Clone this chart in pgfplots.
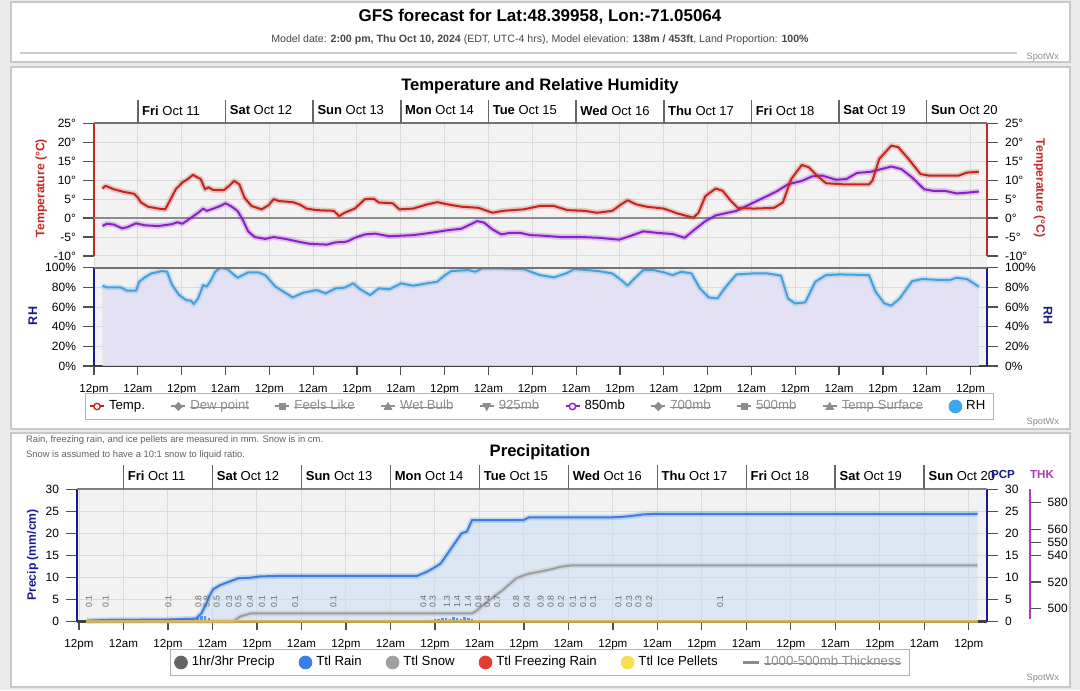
\documentclass[border=0pt]{standalone}
\usepackage{pgfplots}
\pgfplotsset{compat=1.18}
\usepackage{pgfplotstable}
\usepackage{fontspec}
\setmainfont{Liberation Sans}
\newlength{\stw}
\newcommand{\sout}[1]{\settowidth{\stw}{#1}\rlap{#1}\rule[0.3ex]{\stw}{0.45pt}}
\newcommand{\fs}[1]{\fontsize{#1}{#1}\selectfont}
\definecolor{outerbg}{RGB}{234,234,234}
\definecolor{panelbd}{RGB}{200,200,200}
\definecolor{plotbg}{RGB}{242,242,242}
\definecolor{gridc}{RGB}{218,218,218}
\definecolor{tred}{RGB}{196,38,30}
\definecolor{taxis}{RGB}{198,40,40}
\definecolor{purp}{RGB}{140,32,200}
\definecolor{rhline}{RGB}{70,160,220}
\definecolor{rhfill}{RGB}{226,223,245}
\definecolor{navy}{RGB}{26,26,140}
\definecolor{rain}{RGB}{60,125,225}
\definecolor{rainfill}{RGB}{205,222,245}
\definecolor{snow}{RGB}{158,158,158}
\definecolor{thk}{RGB}{176,58,184}
\definecolor{tickc}{RGB}{80,80,80}
\definecolor{frz}{RGB}{229,57,53}
\definecolor{ice}{RGB}{245,224,80}
\definecolor{legrh}{RGB}{60,165,240}
\definecolor{leg1h}{RGB}{100,100,100}
\definecolor{legrain}{RGB}{55,125,235}
\definecolor{legsnow}{RGB}{160,160,160}
\definecolor{strk}{RGB}{140,140,140}

\pgfplotstableread{
h v
2.3 7.8
3.2 8.5
5.4 7.6
8.2 6.9
11 6.4
12 5.4
12.9 4.1
14.8 3.0
17.6 2.5
19.5 2.3
20.5 4.1
22.4 7.6
24.2 9.4
25.7 10.3
27.1 11.4
28 10.9
29.2 10.3
30.4 7.6
31.3 8.1
32.7 7.4
35.6 7.4
37 8.5
38.4 9.8
39.8 8.9
41.2 5.4
43.1 3.2
45.9 2.3
47.8 3.4
49.2 5.0
50.6 4.5
54.4 4.2
56.3 3.6
58.2 2.5
61 2.1
65.7 1.9
67.1 0.5
68.6 1.4
71.4 2.5
74.2 5.0
76.6 5.1
78 4.1
81.8 3.9
83.6 2.3
87.4 2.5
91.2 3.6
94 4.2
96.9 3.6
100.6 3.0
105.3 2.7
109.1 1.4
111.9 1.9
117.6 2.3
122.1 3.2
125.9 3.2
129.6 2.1
134.4 1.9
137.7 1.4
141.9 1.9
144.3 3.6
146.1 4.7
148.5 3.6
151.3 3.0
156 2.5
159.8 1.2
164.1 0.1
165.5 1.4
167.4 5.8
170.2 7.8
172.1 7.2
174.4 4.5
176.3 2.7
180.6 2.5
186.2 2.7
188.6 4.1
190.9 10.3
193.8 14.0
195.7 13.4
198 11.2
200.4 9.2
205.1 8.9
212.2 8.9
213.1 9.8
215 15.6
218.3 19.1
220.2 18.7
223 15.6
226.3 11.6
228.7 11.2
236.7 11.2
239 12.0
242.3 12.2
}\tdata

\pgfplotstableread{
h v
2.3 -2.1
3.5 -1.5
5.4 -1.7
7.7 -2.7
9.1 -2.4
11.5 -1.4
13.9 -1.9
17.6 -2.1
21.4 -1.6
22.8 -1.1
24.2 -1.5
26.6 0.1
28.5 1.4
29.9 2.5
30.8 1.9
32.7 2.5
34.6 3.2
36 3.9
37.4 3.2
39.3 1.9
40.7 -0.4
42.2 -3.5
44 -5.0
46.9 -5.5
49.2 -5.0
52.5 -5.5
56.3 -6.3
59.1 -6.8
63.8 -7.0
66.2 -6.4
68.6 -6.3
69.5 -6.1
71.4 -5.2
74.2 -4.3
77 -4.1
80.8 -4.8
87.4 -4.5
92.1 -3.9
96.9 -3.2
100.6 -2.8
103 -1.7
104.9 -0.8
106.8 -1.2
109.1 -3.0
111.5 -4.3
113.9 -3.9
116.7 -3.9
119.5 -4.5
122.1 -4.6
127.8 -5.0
133.4 -5.0
138.1 -5.2
143.8 -5.7
146.6 -4.8
150.4 -3.5
154.2 -3.9
158.4 -4.2
161.7 -5.2
164.5 -3.0
167.4 -0.8
170.2 0.7
175.9 1.9
180.6 4.1
184.3 5.8
187.2 7.2
190 8.9
193.8 9.8
196.6 11.0
199.4 11.2
203.2 10.1
206 10.3
208.9 11.9
212.6 12.2
215.5 12.9
218.3 13.6
221.1 12.9
224 10.7
227.3 7.6
229.6 7.2
232.9 7.2
236.2 6.5
239 6.7
242.3 7.0
}\mbdata

\pgfplotstableread{
h v
2.3 81.7
3.5 80
7.3 80
9.1 76.6
11.5 76.6
12.4 85.8
13.9 90.2
15.7 94.2
18.6 96.6
20 95.9
21.4 82.4
23.3 72.2
25.2 67.1
26.6 66.4
27.3 63
28.5 68.8
29.9 82.4
30.8 80.7
31.8 85.8
33.2 95.9
34.6 100
36.5 98.6
39.3 89.8
42.2 95.3
45 95.3
46.9 92.5
49.7 80.7
54.4 69.8
57.3 74.6
61 77.3
63.4 73.9
66.2 79
68.6 79.7
71 84.1
72.8 78.3
75.6 72.2
78 79
80.8 78
84.1 84.1
87.4 81.7
91.2 84.1
94 85.8
95.9 91.9
97.8 96.6
102.5 97.6
104.4 95.9
106.3 99.3
111 99.3
117.6 98.6
122.1 92.5
125.9 90.2
129.2 94.2
131.5 98.6
138.1 96.6
141.9 94.2
144.7 86.4
146.1 81.7
148 89.2
150.4 97.6
153.2 97.6
156 95.3
158.4 92.5
160.8 95.9
163.6 94.2
165.9 79
168.3 69.8
170.7 68.8
173 80.7
175.9 93.2
180.6 94.2
184.3 94.2
188.1 91.9
190 68.8
191.9 63.7
194.7 64.7
197.5 85.8
200.4 92.5
204.1 93.2
212.2 92.5
214 75.6
216.4 63.7
218.3 61.4
220.6 68.8
224 86.4
226.8 88.5
231.5 87.5
234.3 87.5
236.2 89.8
239 88.5
242.3 80.7
}\rhdata

\pgfplotstableread{
h v
2 0.1
4 0.2
8 0.3
24 0.4
31.5 0.6
33 1.8
34.2 3.8
35.3 6.0
36.2 7.3
38 8.2
40.5 9.0
43 9.8
46 9.9
49 10.2
53 10.3
91.1 10.3
93.9 11.3
96.2 12.4
97.6 13.2
99.5 15.5
101.3 17.7
103.2 20.0
104.6 20.4
106 23.0
119.9 23.0
121.3 23.6
143 23.6
145.8 23.7
148.5 23.9
152.3 24.3
155 24.4
242.4 24.4
}\raindata

\pgfplotstableread{
h v
2 0
41.6 0
43.5 1.1
46.3 1.8
106 1.8
106.9 2.2
110.6 4.8
114.3 7.1
118 9.8
120.8 10.7
124.4 11.3
127.2 11.8
130 12.4
132.8 12.7
242.4 12.7
}\snowdata

\pgfplotstableread{
h v
31 0.4
32 0.9
33 1.3
34 1.1
35 0.8
36 0.4
37 0.2
93 0.3
95 0.4
96 0.6
97 0.5
98 0.7
99 0.8
100 0.6
101 0.9
102 0.8
103 0.6
104 1.0
105 0.7
106 0.5
}\rainbars

\pgfplotstableread{
h v
108 0.3
110 0.2
112 0.3
115 0.2
118 0.3
121 0.2
124 0.2
127 0.2
}\snowbars

\pgfplotstableread{
h y lab
2.7 3 0.1
7.2 3 0.1
24.1 3 0.1
32.2 3 0.8
34.4 3 5.8
37.1 3 0.5
40.5 3 0.3
43 3 0.5
46.1 3 0.4
49.3 3 0.1
52.6 3 0.1
58.3 3 0.1
68.6 3 0.1
92.9 3 0.4
95.4 3 0.3
99.2 3 1.3
102 3 1.4
104.9 3 1.4
107.7 3 0.8
110.1 3 0.4
112.8 3 0.7
117.9 3 0.8
120.8 3 0.4
124.5 3 0.9
127.2 3 0.8
130 3 0.2
133.2 3 0.1
136 3 0.1
138.7 3 0.1
145.5 3 0.1
148.4 3 0.3
150.9 3 0.3
153.8 3 0.2
172.9 3 0.1
}\lbldata

\pgfplotsset{
  glow/.style={preaction={draw,#1,opacity=0.22,line width=2.8pt}},
  hrs/.style={xtick={0,12,...,240},
    xticklabels={12pm,12am,12pm,12am,12pm,12am,12pm,12am,12pm,12am,12pm,12am,12pm,12am,12pm,12am,12pm,12am,12pm,12am,12pm}},
}

\begin{document}
\begin{tikzpicture}[x=0.5pt,y=0.5pt]
\fill[outerbg] (0,0) rectangle (1080,690);
\filldraw[fill=white,draw=panelbd,line width=0.6pt] (11,690-2) rectangle (1070,690-62);
\filldraw[fill=white,draw=panelbd,line width=0.6pt] (11,690-67) rectangle (1070,690-429);
\filldraw[fill=white,draw=panelbd,line width=0.6pt] (11,690-433) rectangle (1070,690-687);

% header
\node[font=\bfseries\fs{8.5}] at (540,690-17) {GFS forecast for Lat:48.39958, Lon:-71.05064};
\node[font=\fs{5.3}, text=black!72] at (540,690-40) {Model date: \textbf{2:00 pm, Thu Oct 10, 2024} (EDT, UTC-4 hrs), Model elevation: \textbf{138m / 453ft}, Land Proportion: \textbf{100\%}};
\draw[black!20, line width=1pt] (20,690-53) -- (1017,690-53);
\node[font=\fs{4.6}, text=black!45, anchor=east] at (1066,690-57) {SpotWx};

% ===== panel 2 =====
\node[font=\bfseries\fs{8.3}] at (540,690-86) {Temperature and Relative Humidity};

\begin{axis}[at={(47pt,162pt)}, anchor=south west, scale only axis,
  width=446.5pt, height=121.35pt, xmin=0, xmax=244.5, ymin=0, ymax=1,
  xtick={0,12,...,240}, xticklabels={}, ytick=\empty, major tick length=0pt,
  axis line style={draw=none}, axis background/.style={fill=plotbg},
  xmajorgrids, grid style={gridc, line width=0.5pt}]
\end{axis}

\begin{axis}[at={(47pt,217pt)}, anchor=south west, scale only axis,
  width=446.5pt, height=66.35pt, xmin=0, xmax=244.5, ymin=-10, ymax=25,
  axis x line=none, axis y line*=left,
  y axis line style={taxis, line width=1.3pt},
  ytick={-10,-5,...,25}, yticklabels={-10°,-5°,0°,5°,10°,15°,20°,25°},
  ymajorgrids, grid style={gridc, line width=0.5pt},
  tick align=outside, major tick length=5.5pt,
  ytick style={tickc, line width=0.6pt},
  yticklabel style={font=\fs{6}},
  ylabel={\textbf{Temperature (°C)}},
  ylabel style={taxis, font=\fs{6.1}, at={(axis description cs:-0.059,0.512)}, anchor=center}]
\draw[black!45, line width=0.8pt] (axis cs:0,0) -- (axis cs:244.5,0);
\addplot[purp, line width=1pt, line join=round, glow=purp] table {\mbdata};
\addplot[tred, line width=1pt, line join=round, glow=tred] table {\tdata};
\end{axis}

\begin{axis}[at={(47pt,217pt)}, anchor=south west, scale only axis,
  width=446.5pt, height=66.35pt, xmin=0, xmax=244.5, ymin=-10, ymax=25,
  axis x line=none, axis y line*=right,
  y axis line style={taxis, line width=1.3pt},
  ytick={-10,-5,...,25}, yticklabels={-10°,-5°,0°,5°,10°,15°,20°,25°},
  tick align=outside, major tick length=5.5pt,
  ytick style={tickc, line width=0.6pt},
  yticklabel style={font=\fs{6}},
  ylabel={\textbf{Temperature (°C)}},
  ylabel style={taxis, font=\fs{6.1}, at={(axis description cs:1.0587,0.512)}, anchor=center, rotate=180}]
\end{axis}

\begin{axis}[at={(47pt,162pt)}, anchor=south west, scale only axis,
  width=446.5pt, height=49.15pt, xmin=0, xmax=244.5, ymin=0, ymax=100,
  axis x line*=bottom, axis y line*=left,
  x axis line style={black!75, line width=1.2pt},
  y axis line style={navy, line width=1.3pt},
  hrs, ytick={0,20,...,100}, yticklabels={0\%,20\%,40\%,60\%,80\%,100\%},
  ymajorgrids, grid style={gridc, line width=0.5pt},
  tick align=outside, major tick length=5.5pt,
  xtick style={tickc, line width=0.6pt, /pgfplots/major tick length=4.5pt},
  ytick style={tickc, line width=0.6pt},
  yticklabel style={font=\fs{6}}, xticklabel style={font=\fs{5.8}},
  ylabel={\textbf{RH}},
  ylabel style={navy, font=\fs{6.3}, at={(axis description cs:-0.0686,0.509)}, anchor=center},
  legend columns=10,
  legend style={at={(0.4985,-0.412)}, anchor=center, draw=black!30, fill=white,
    font=\fs{6.6}, inner ysep=1.5pt, inner xsep=2pt,
    /tikz/every even column/.append style={column sep=10.7pt}},
  legend cell align=left]
\addplot[draw=none, fill=rhfill, fill opacity=0.85, forget plot] table {\rhdata} \closedcycle;
\addplot[rhline, line width=1pt, line join=round, glow=rhline, forget plot] table {\rhdata};
\addlegendimage{legend image code/.code={\draw[tred, line width=1pt] (0pt,0pt) -- (7pt,0pt); \draw[tred, line width=0.7pt, fill=white] (3.5pt,0pt) circle (1.6pt);}}
\addlegendentry{Temp.}
\addlegendimage{legend image code/.code={\draw[strk, line width=1pt] (0pt,0pt) -- (7pt,0pt); \fill[strk] (3.5pt,2pt) -- (5.5pt,0pt) -- (3.5pt,-2pt) -- (1.5pt,0pt) -- cycle;}}
\addlegendentry{\textcolor{strk}{\sout{Dew point}}}
\addlegendimage{legend image code/.code={\draw[strk, line width=1pt] (0pt,0pt) -- (7pt,0pt); \fill[strk] (2pt,-1.6pt) rectangle (5pt,1.6pt);}}
\addlegendentry{\textcolor{strk}{\sout{Feels Like}}}
\addlegendimage{legend image code/.code={\draw[strk, line width=1pt] (0pt,0pt) -- (7pt,0pt); \fill[strk] (3.5pt,2pt) -- (5.4pt,-1.5pt) -- (1.6pt,-1.5pt) -- cycle;}}
\addlegendentry{\textcolor{strk}{\sout{Wet Bulb}}}
\addlegendimage{legend image code/.code={\draw[strk, line width=1pt] (0pt,0pt) -- (7pt,0pt); \fill[strk] (3.5pt,-2pt) -- (5.4pt,1.5pt) -- (1.6pt,1.5pt) -- cycle;}}
\addlegendentry{\textcolor{strk}{\sout{925mb}}}
\addlegendimage{legend image code/.code={\draw[purp, line width=1pt] (0pt,0pt) -- (7pt,0pt); \draw[purp, line width=0.7pt, fill=white] (3.5pt,0pt) circle (1.6pt);}}
\addlegendentry{850mb}
\addlegendimage{legend image code/.code={\draw[strk, line width=1pt] (0pt,0pt) -- (7pt,0pt); \fill[strk] (3.5pt,2pt) -- (5.5pt,0pt) -- (3.5pt,-2pt) -- (1.5pt,0pt) -- cycle;}}
\addlegendentry{\textcolor{strk}{\sout{700mb}}}
\addlegendimage{legend image code/.code={\draw[strk, line width=1pt] (0pt,0pt) -- (7pt,0pt); \fill[strk] (2pt,-1.6pt) rectangle (5pt,1.6pt);}}
\addlegendentry{\textcolor{strk}{\sout{500mb}}}
\addlegendimage{legend image code/.code={\draw[strk, line width=1pt] (0pt,0pt) -- (7pt,0pt); \fill[strk] (3.5pt,2pt) -- (5.4pt,-1.5pt) -- (1.6pt,-1.5pt) -- cycle;}}
\addlegendentry{\textcolor{strk}{\sout{Temp Surface}}}
\addlegendimage{legend image code/.code={\fill[legrh] (3.5pt,0pt) circle (3.2pt);}}
\addlegendentry{RH}
\end{axis}

\begin{axis}[at={(47pt,162pt)}, anchor=south west, scale only axis,
  width=446.5pt, height=49.15pt, xmin=0, xmax=244.5, ymin=0, ymax=100,
  axis x line=none, axis y line*=right,
  y axis line style={navy, line width=1.3pt},
  ytick={0,20,...,100}, yticklabels={0\%,20\%,40\%,60\%,80\%,100\%},
  tick align=outside, major tick length=5.5pt,
  ytick style={tickc, line width=0.6pt},
  yticklabel style={font=\fs{6}},
  ylabel={\textbf{RH}},
  ylabel style={navy, font=\fs{6.3}, at={(axis description cs:1.0683,0.509)}, anchor=center, rotate=180}]
\end{axis}

\draw[black!55, line width=1.2pt] (94,690-123.3) -- (987,690-123.3);
\draw[black!55, line width=1pt] (94,690-267.7) -- (987,690-267.7);
\foreach \k/\d/\n in {0/Fri/Oct 11,1/Sat/Oct 12,2/Sun/Oct 13,3/Mon/Oct 14,4/Tue/Oct 15,5/Wed/Oct 16,6/Thu/Oct 17,7/Fri/Oct 18,8/Sat/Oct 19,9/Sun/Oct 20}{
  \draw[black!60, line width=0.8pt] ({137.8+87.65*\k},690-100) -- ({137.8+87.65*\k},690-123.3);
  \node[anchor=west, font=\fs{6.5}, inner sep=0pt] at ({137.8+87.65*\k+4},690-110.5) {\textbf{\d} \n};
}
\node[font=\fs{4.6}, text=black!45, anchor=east] at (1066,690-422) {SpotWx};

% ===== panel 3 =====
\node[anchor=west, font=\fs{4.7}, text=black!62] at (19,690-440.5) {Rain, freezing rain, and ice pellets are measured in mm. Snow is in cm.};
\node[anchor=west, font=\fs{4.7}, text=black!62] at (19,690-455) {Snow is assumed to have a 10:1 snow to liquid ratio.};
\node[font=\bfseries\fs{8.3}] at (540,690-452) {Precipitation};

\begin{axis}[at={(38.5pt,34.35pt)}, anchor=south west, scale only axis,
  width=455pt, height=66pt, xmin=-0.54, xmax=244.9, ymin=0, ymax=30,
  /pgf/number format/assume math mode=true,
  axis background/.style={fill=plotbg},
  axis x line*=bottom, axis y line*=left,
  x axis line style={black!75, line width=1.2pt},
  y axis line style={navy, line width=1.3pt},
  hrs, ytick={0,5,...,30},
  xmajorgrids, ymajorgrids, grid style={gridc, line width=0.5pt},
  tick align=outside, major tick length=5.5pt,
  xtick style={tickc, line width=0.6pt, /pgfplots/major tick length=4.5pt},
  ytick style={tickc, line width=0.6pt},
  yticklabel style={font=\fs{6}}, xticklabel style={font=\fs{5.8}},
  ylabel={\textbf{Precip (mm/cm)}},
  ylabel style={navy, font=\fs{6.1}, at={(axis description cs:-0.0487,0.502)}, anchor=center},
  clip=false,
  legend columns=6,
  legend style={at={(0.5085,-0.312)}, anchor=center, draw=black!30, fill=white,
    font=\fs{6.6}, inner ysep=1.5pt, inner xsep=2pt,
    /tikz/every even column/.append style={column sep=10pt}},
  legend cell align=left]
\addplot[draw=none, fill=rainfill, fill opacity=0.55, forget plot] table {\raindata} \closedcycle;
\addplot[ycomb, rain, line width=1.2pt, opacity=0.8, forget plot] table {\rainbars};
\addplot[ycomb, snow, line width=1.2pt, opacity=0.5, forget plot] table {\snowbars};
\addplot[draw=none, mark=none, forget plot, nodes near coords, point meta=explicit symbolic,
  nodes near coords style={rotate=90, anchor=west, font=\fs{4.3}, text=black!60, inner sep=0pt}]
  table[x=h, y=y, meta=lab] {\lbldata};
\addplot[snow, line width=1pt, glow=snow, forget plot] table {\snowdata};
\addplot[rain, line width=1pt, glow=rain, forget plot] table {\raindata};
\addplot[frz, line width=1.2pt, opacity=0.25, forget plot] coordinates {(2,0) (242.4,0)};
\addplot[ice, line width=1.2pt, opacity=0.6, forget plot] coordinates {(2,0) (242.4,0)};
\addlegendimage{legend image code/.code={\fill[leg1h] (3.5pt,0pt) circle (3.2pt);}}
\addlegendentry{1hr/3hr Precip}
\addlegendimage{legend image code/.code={\fill[legrain] (3.5pt,0pt) circle (3.2pt);}}
\addlegendentry{Ttl Rain}
\addlegendimage{legend image code/.code={\fill[legsnow] (3.5pt,0pt) circle (3.2pt);}}
\addlegendentry{Ttl Snow}
\addlegendimage{legend image code/.code={\fill[frz] (3.5pt,0pt) circle (3.2pt);}}
\addlegendentry{Ttl Freezing Rain}
\addlegendimage{legend image code/.code={\fill[ice] (3.5pt,0pt) circle (3.2pt);}}
\addlegendentry{Ttl Ice Pellets}
\addlegendimage{legend image code/.code={\draw[strk, line width=1.2pt] (0pt,0pt) -- (8pt,0pt);}}
\addlegendentry{\textcolor{strk}{\sout{1000-500mb Thickness}}}
\end{axis}

\begin{axis}[at={(38.5pt,34.35pt)}, anchor=south west, scale only axis,
  width=455pt, height=66pt, xmin=-0.54, xmax=244.9, ymin=0, ymax=30,
  /pgf/number format/assume math mode=true,
  axis x line=none, axis y line*=right,
  y axis line style={navy, line width=1.3pt},
  ytick={0,5,...,30},
  tick align=outside, major tick length=5.5pt,
  ytick style={tickc, line width=0.6pt},
  yticklabel style={font=\fs{6}}]
\end{axis}

\begin{axis}[at={(514pt,35.35pt)}, anchor=south west, scale only axis,
  width=1pt, height=65pt, xmin=0, xmax=1, ymin=491.7, ymax=590.2,
  /pgf/number format/assume math mode=true,
  axis x line=none, axis y line*=right,
  y axis line style={thk, line width=1.4pt},
  ytick={500,520,540,550,560,580},
  tick align=outside, major tick length=5.3pt,
  ytick style={tickc, line width=0.6pt},
  yticklabel style={font=\fs{6}}]
\end{axis}

\draw[black!50, line width=1pt] (77,690-489.3) -- (987,690-489.3);
\foreach \k/\d/\n in {0/Fri/Oct 11,1/Sat/Oct 12,2/Sun/Oct 13,3/Mon/Oct 14,4/Tue/Oct 15,5/Wed/Oct 16,6/Thu/Oct 17,7/Fri/Oct 18,8/Sat/Oct 19,9/Sun/Oct 20}{
  \draw[black!60, line width=0.8pt] ({123.5+88.97*\k},690-465) -- ({123.5+88.97*\k},690-489.3);
  \node[anchor=west, font=\fs{6.5}, inner sep=0pt] at ({123.5+88.97*\k+4},690-476) {\textbf{\d} \n};
}
\node[font=\bfseries\fs{5.8}, text=navy] at (1003,690-475) {PCP};
\node[font=\bfseries\fs{5.8}, text=thk] at (1042,690-475) {THK};
\node[font=\fs{4.6}, text=black!45, anchor=east] at (1066,690-678) {SpotWx};
\end{tikzpicture}
\end{document}
